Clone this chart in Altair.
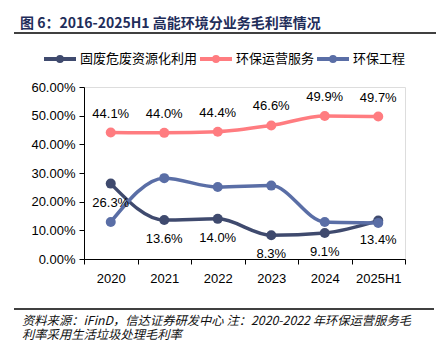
import altair as alt
import pandas as pd

years = ["2020", "2021", "2022", "2023", "2024", "2025H1"]
series_names = ["固废危废资源化利用", "环保运营服务", "环保工程"]
solid_waste = [26.3, 13.6, 14.0, 8.3, 9.1, 13.4]
operation = [44.1, 44.0, 44.4, 46.6, 49.9, 49.7]
engineering = [12.9, 28.2, 25.1, 25.6, 12.9, 12.6]
colors = ["#3F4A6E", "#FF7C80", "#5A6EA6"]
title_text = "图 6：2016-2025H1 高能环境分业务毛利率情况"
footer_lines = ["资料来源：iFinD，信达证券研发中心  注：2020-2022 年环保运营服务毛",
                "利率采用生活垃圾处理毛利率"]

rows = []
for name, vals in zip(series_names, [solid_waste, operation, engineering]):
    for y, v in zip(years, vals):
        rows.append({"year": y, "series": name, "value": v / 100.0})
df = pd.DataFrame(rows)

lab_below = pd.DataFrame({"year": years, "value": [v / 100 for v in solid_waste],
                          "label": [f"{v:.1f}%" for v in solid_waste]})
lab_above = pd.DataFrame({"year": years, "value": [v / 100 for v in operation],
                          "label": [f"{v:.1f}%" for v in operation]})

FONT = "Liberation Sans"
CJK = "Noto Sans CJK SC"

x_enc = alt.X("year:N", sort=years, title=None,
              scale=alt.Scale(type="band", paddingInner=0, paddingOuter=0),
              axis=alt.Axis(labelAngle=0, tickBand="extent", labelFont=FONT,
                            labelFontSize=13, labelColor="#000", domainColor="#000",
                            tickColor="#000", tickSize=5, labelPadding=8, grid=False))
y_enc = alt.Y("value:Q", title=None,
              scale=alt.Scale(domain=[0, 0.6], nice=False),
              axis=alt.Axis(values=[0, 0.1, 0.2, 0.3, 0.4, 0.5, 0.6], format=".2%",
                            labelFont=FONT, labelFontSize=13, labelColor="#000",
                            domainColor="#000", tickColor="#000", tickSize=5,
                            labelPadding=4, grid=False))
color_enc = alt.Color("series:N", sort=series_names,
                      scale=alt.Scale(domain=series_names, range=colors),
                      legend=alt.Legend(title=None, orient="none", direction="horizontal",
                                        legendX=-42, legendY=-46,
                                        symbolType="M-1,0L1,0M0.12,0A0.12,0.12,0,1,1,-0.12,0A0.12,0.12,0,1,1,0.12,0",
                                        symbolSize=1024, symbolStrokeWidth=4,
                                        labelFont=CJK, labelFontSize=13, labelColor="#000",
                                        columnPadding=-25, labelOffset=2))

lines = alt.Chart(df).mark_line(strokeWidth=3.5, interpolate="monotone").encode(
    x=x_enc, y=y_enc, color=color_enc)
points = alt.Chart(df).mark_circle(size=100, opacity=1).encode(
    x=x_enc, y=y_enc, color=alt.Color("series:N", sort=series_names, legend=None))

t_below = alt.Chart(lab_below).mark_text(font=FONT, fontSize=13, dy=19, color="#000").encode(
    x=x_enc, y=y_enc, text="label:N")
t_above = alt.Chart(lab_above).mark_text(font=FONT, fontSize=13, dy=-19, color="#000").encode(
    x=x_enc, y=y_enc, text="label:N")

one = pd.DataFrame({"a": [0]})
title = alt.Chart(one).mark_text(font=CJK, fontSize=14, fontWeight="bold", color="#1F2D5A",
                                 align="left", baseline="middle", text=title_text).encode(
    x=alt.value(-64), y=alt.value(-63))
top_rule = alt.Chart(one).mark_rule(color="#000", strokeWidth=1.5).encode(
    x=alt.value(-70), x2=alt.value(352), y=alt.value(-54))
bot_rule = alt.Chart(one).mark_rule(color="#000", strokeWidth=1.5).encode(
    x=alt.value(-70), x2=alt.value(350), y=alt.value(222))
foot1 = alt.Chart(one).mark_text(font=CJK, fontSize=12.3, fontStyle="italic", color="#111",
                                 align="left", baseline="middle", text=footer_lines[0]).encode(
    x=alt.value(-62), y=alt.value(233.5))
foot2 = alt.Chart(one).mark_text(font=CJK, fontSize=12.3, fontStyle="italic", color="#111",
                                 align="left", baseline="middle", text=footer_lines[1]).encode(
    x=alt.value(-62), y=alt.value(247.5))

chart = alt.layer(lines, points, t_below, t_above, title, top_rule, bot_rule, foot1, foot2).properties(
    width=321, height=172,
    autosize=alt.AutoSizeParams(type="none"),
    padding={"left": 84, "top": 87, "right": 33, "bottom": 81},
).configure_view(stroke=None).configure(background="white")

chart.save("out.html", embed_options={"renderer": "svg", "actions": False})
